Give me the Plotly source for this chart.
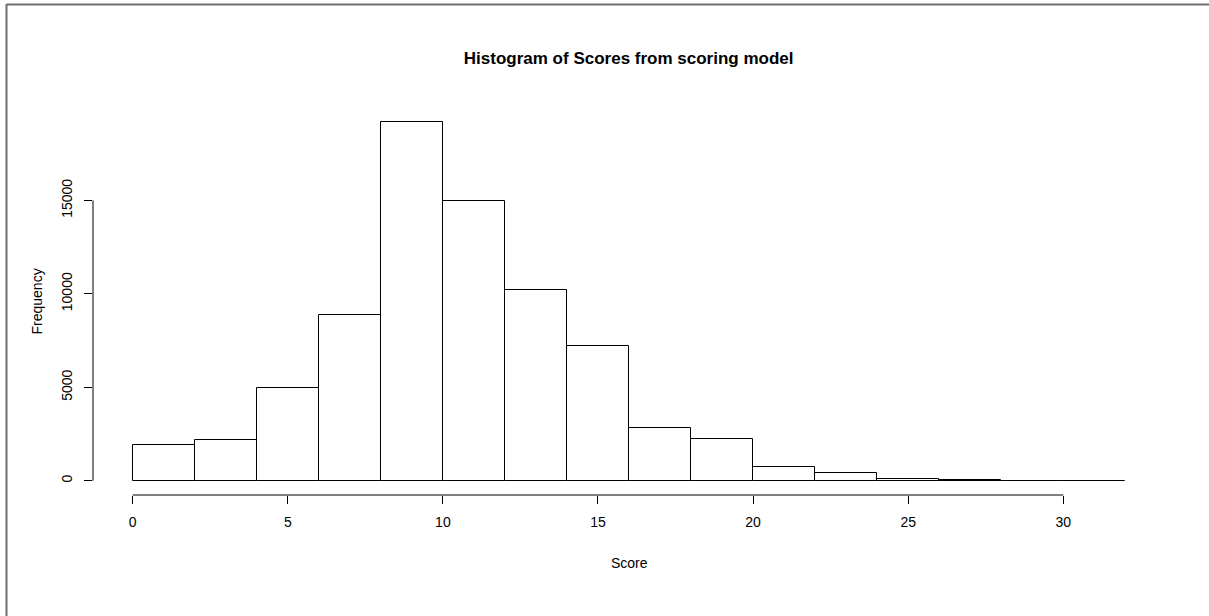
import plotly.graph_objects as go

# Data (bins of width 2 from 0 to 32)
bin_starts = [0, 2, 4, 6, 8, 10, 12, 14, 16, 18, 20, 22, 24, 26, 28, 30]
counts = [1890, 2180, 4960, 8850, 19180, 14950, 10225, 7190, 2800, 2210, 750, 430, 90, 35, 8, 3]
bin_width = 2
x_ticks = [0, 5, 10, 15, 20, 25, 30]
y_ticks = [0, 5000, 10000, 15000]

title_text = "Histogram of Scores from scoring model"
x_title = "Score"
y_title = "Frequency"

FONT = "Liberation Sans, Arial, sans-serif"

fig = go.Figure()
fig.add_trace(go.Bar(
    x=bin_starts, y=counts, width=bin_width, offset=0,
    marker=dict(color="white", line=dict(color="black", width=1)),
    showlegend=False, hoverinfo="x+y",
))

xmin, xmax = bin_starts[0], bin_starts[-1] + bin_width
xpad = 0.04 * (xmax - xmin)
ymax = max(counts)
ypad = 0.04 * ymax

fig.update_layout(
    width=1209, height=616,
    margin=dict(l=93, r=44, t=108, b=121),
    paper_bgcolor="white", plot_bgcolor="white",
    font=dict(family=FONT, size=14, color="black"),
    bargap=0,
    title=dict(text="<b>" + title_text + "</b>", x=0.52, xanchor="center",
               y=1 - 58 / 616, yanchor="middle", yref="container",
               font=dict(size=17, family=FONT, color="black")),
    xaxis=dict(range=[xmin - xpad, xmax + xpad], tickvals=x_ticks,
               ticks="outside", ticklen=8, tickcolor="black", tickwidth=1,
               showline=False, showgrid=False, zeroline=False,
               tickfont=dict(size=14), ticklabelstandoff=6),
    yaxis=dict(range=[-ypad, ymax + ypad], tickvals=y_ticks, tickformat="d",
               ticks="outside", ticklen=8, tickcolor="black", tickwidth=1,
               showline=False, showgrid=False, zeroline=False,
               tickangle=-90, tickfont=dict(size=14), ticklabelstandoff=6),
    shapes=[
        # R-style detached axis lines
        dict(type="line", xref="x", yref="paper", x0=x_ticks[0], x1=x_ticks[-1],
             y0=0, y1=0, line=dict(color="black", width=1)),
        dict(type="line", xref="paper", yref="y", x0=0, x1=0,
             y0=y_ticks[0], y1=y_ticks[-1], line=dict(color="black", width=1)),
        # window frame (top and left)
        dict(type="line", xref="paper", yref="paper",
             x0=(6.5 - 93) / 1072, x1=(1212 - 93) / 1072,
             y0=(495 - 4.5) / 387, y1=(495 - 4.5) / 387,
             line=dict(color="#6e6e6e", width=2)),
        dict(type="line", xref="paper", yref="paper",
             x0=(6.5 - 93) / 1072, x1=(6.5 - 93) / 1072,
             y0=(495 - 4) / 387, y1=(495 - 620) / 387,
             line=dict(color="#6e6e6e", width=2)),
    ],
    annotations=[
        dict(text=x_title, xref="paper", yref="paper", x=0.5, y=0,
             xanchor="center", yanchor="middle", yshift=-68, showarrow=False,
             font=dict(size=14)),
        dict(text=y_title, xref="paper", yref="paper", x=0, y=0.5,
             xanchor="center", yanchor="middle", xshift=-57, textangle=-90,
             showarrow=False, font=dict(size=14)),
    ],
)

fig.write_html("out.html")
